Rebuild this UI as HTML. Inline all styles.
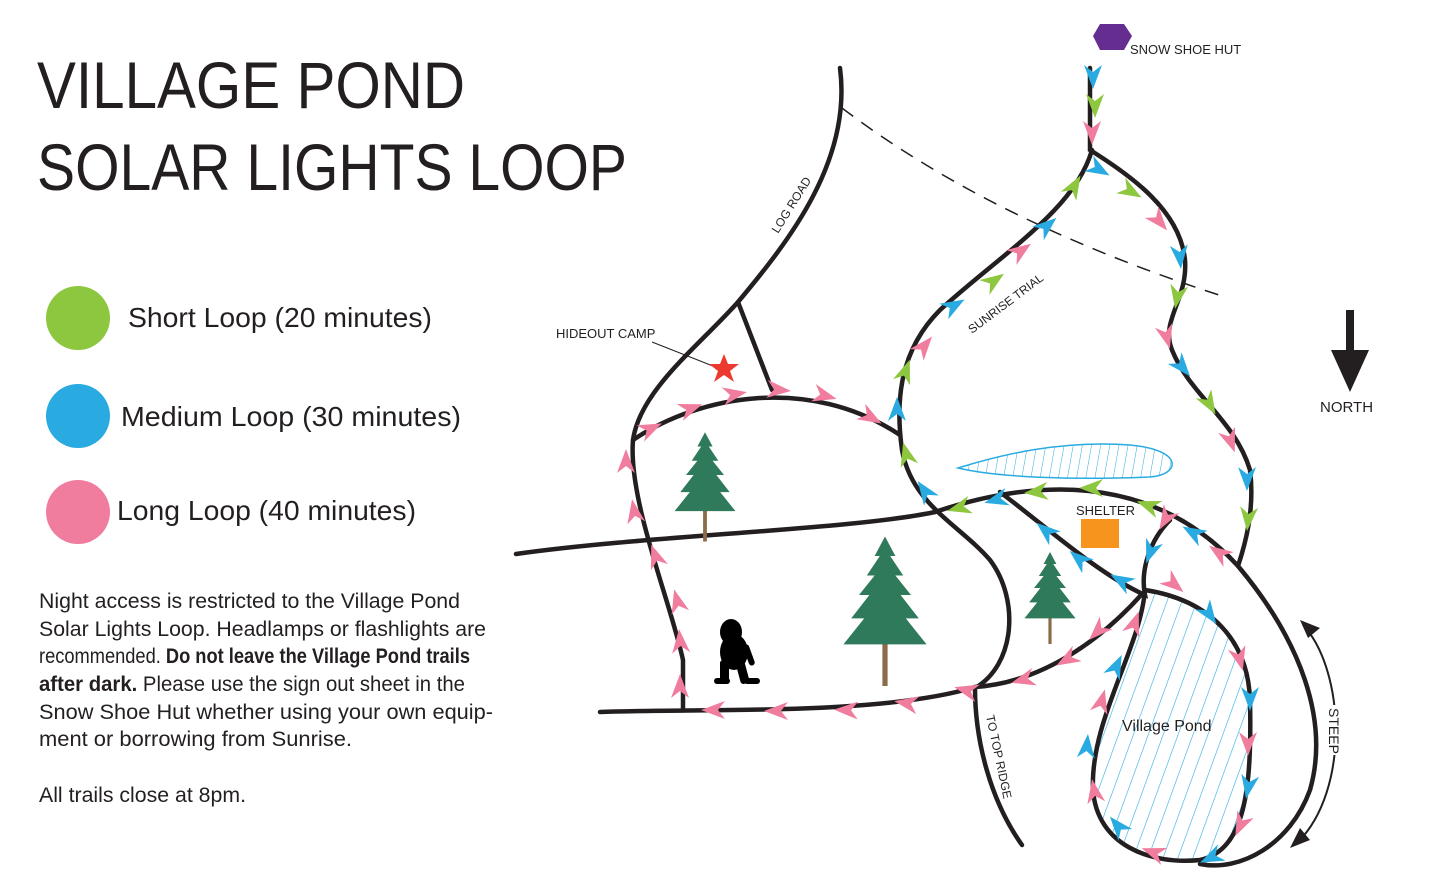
<!DOCTYPE html>
<html><head><meta charset="utf-8"><style>
html,body{margin:0;padding:0;background:#fff;}
svg{display:block;}
text{font-family:"Liberation Sans",sans-serif;fill:#231f20;}
</style></head><body>
<svg width="1453" height="875" viewBox="0 0 1453 875" xmlns="http://www.w3.org/2000/svg">
<defs>
<path id="a" d="M-13,-9 L11,0 L-13,9 L-6,0 Z"/>
<pattern id="h" width="14" height="14" patternUnits="userSpaceOnUse" patternTransform="rotate(20)">
<line x1="0" y1="0" x2="0" y2="14" stroke="#29abe2" stroke-width="1.2"/></pattern>
<pattern id="h2" width="9" height="9" patternUnits="userSpaceOnUse" patternTransform="rotate(10)">
<line x1="0" y1="0" x2="0" y2="9" stroke="#29abe2" stroke-width="1"/></pattern>
<g id="tree">
<rect x="-2" y="25" width="4" height="45" fill="#8b6b4a"/>
<polygon points="0,-45 -8,-30 -4,-30 -14,-15 -8,-15 -20,0 -12,0 -26,18 -16,18 -32,38 32,38 16,18 26,18 12,0 20,0 8,-15 14,-15 4,-30 8,-30" fill="#2e7a5a"/>
</g>
</defs>

<text x="37" y="108" font-size="66" textLength="428" lengthAdjust="spacingAndGlyphs">VILLAGE POND</text>
<text x="37" y="190" font-size="66" textLength="590" lengthAdjust="spacingAndGlyphs">SOLAR LIGHTS LOOP</text>

<circle cx="78" cy="318" r="32" fill="#8dc63f"/>
<circle cx="78" cy="416" r="32" fill="#29abe2"/>
<circle cx="78" cy="512" r="32" fill="#f07c9e"/>
<text x="128" y="327" font-size="28" textLength="304" lengthAdjust="spacingAndGlyphs">Short Loop (20 minutes)</text>
<text x="121" y="426" font-size="28" textLength="340" lengthAdjust="spacingAndGlyphs">Medium Loop (30 minutes)</text>
<text x="117" y="520" font-size="28" textLength="299" lengthAdjust="spacingAndGlyphs">Long Loop (40 minutes)</text>

<g font-size="21">
<text x="39" y="608" textLength="421" lengthAdjust="spacingAndGlyphs">Night access is restricted to the Village Pond</text>
<text x="39" y="636" textLength="447" lengthAdjust="spacingAndGlyphs">Solar Lights Loop. Headlamps or flashlights are</text>
<text x="39" y="663" textLength="431" lengthAdjust="spacingAndGlyphs">recommended. <tspan font-weight="bold">Do not leave the Village Pond trails</tspan></text>
<text x="39" y="691" textLength="426" lengthAdjust="spacingAndGlyphs"><tspan font-weight="bold">after dark.</tspan> Please use the sign out sheet in the</text>
<text x="39" y="719" textLength="454" lengthAdjust="spacingAndGlyphs">Snow Shoe Hut whether using your own equip-</text>
<text x="39" y="746" textLength="313" lengthAdjust="spacingAndGlyphs">ment or borrowing from Sunrise.</text>
<text x="39" y="802" textLength="207" lengthAdjust="spacingAndGlyphs">All trails close at 8pm.</text>
</g>

<path d="M842,108 C950,190 1080,250 1222,296" fill="none" stroke="#231f20" stroke-width="1.5" stroke-dasharray="14,10"/>

<path d="M1145,590 C1140,650 1090,720 1093,790 C1097,845 1150,865 1200,860 C1245,850 1252,790 1250,700 C1248,640 1210,600 1145,590 Z" fill="url(#h)"/>
<path d="M958,468 C1000,455 1060,440 1130,445 C1185,450 1180,475 1150,477 C1080,480 1000,478 958,468 Z" fill="url(#h2)" stroke="#29abe2" stroke-width="1.5"/>

<g fill="none" stroke="#231f20" stroke-width="4.5" stroke-linecap="round">
<path d="M840,68 C852,160 790,240 738,302 C700,345 640,390 633,440 C628,500 670,600 683,660 L683,708"/>
<path d="M738,302 L772,390"/>
<path d="M633,440 C700,395 810,375 900,435"/>
<path d="M516,554 C650,535 850,530 935,512"/>
<path d="M600,712 C700,708 880,716 975,687 C1050,682 1110,630 1142,594"/>
<path d="M1092,150 C1075,210 1000,255 940,310 C900,350 895,400 902,450 C912,505 960,525 990,560 C1020,600 1015,665 975,688 C975,740 990,800 1022,845"/>
<path d="M1090,68 L1090,150 C1130,175 1180,210 1185,260 C1188,300 1160,320 1172,350 C1190,395 1235,420 1250,470 C1255,510 1245,545 1238,566"/>
<path d="M935,512 C1030,480 1150,470 1238,566 C1300,640 1330,720 1310,790 C1290,845 1240,872 1200,864"/>
<path d="M1000,492 C1050,530 1100,575 1145,595 C1140,570 1150,540 1170,520"/>
<path d="M1145,590 C1140,650 1090,720 1093,790 C1097,845 1150,865 1200,860 C1245,850 1252,790 1250,700 C1248,640 1210,600 1145,590"/>
</g>

<path d="M1303,625 C1345,670 1350,790 1298,842" fill="none" stroke="#231f20" stroke-width="2"/>
<polygon points="1300,620 1320,628 1308,638" fill="#231f20"/>
<polygon points="1290,848 1300,828 1310,840" fill="#231f20"/>
<rect x="1325" y="705" width="20" height="50" fill="#fff"/>
<text transform="translate(1329,708) rotate(90)" font-size="14">STEEP</text>

<rect x="1346" y="310" width="8" height="52" fill="#231f20"/>
<polygon points="1331,350 1369,350 1350,392" fill="#231f20"/>
<text x="1320" y="412" font-size="15">NORTH</text>

<polygon points="1100,24 1124,24 1132,36 1124,50 1100,50 1093,36" fill="#662d91"/>
<text x="1130" y="54" font-size="13">SNOW SHOE HUT</text>
<text x="556" y="338" font-size="13">HIDEOUT CAMP</text>
<line x1="652" y1="342" x2="718" y2="368" stroke="#231f20" stroke-width="1"/>
<polygon points="724,354 728,364 739,364 730,371 734,382 724,375 714,382 718,371 709,364 720,364" fill="#ed3a2e"/>
<text transform="translate(778,234) rotate(-58)" font-size="12">LOG ROAD</text>
<text transform="translate(972,334) rotate(-37)" font-size="12">SUNRISE TRIAL</text>
<text transform="translate(986,716) rotate(78)" font-size="12">TO TOP RIDGE</text>
<text x="1076" y="515" font-size="13">SHELTER</text>
<rect x="1081" y="519" width="38" height="29" fill="#f7941d"/>
<text x="1122" y="731" font-size="16">Village Pond</text>

<use href="#tree" transform="translate(705,475) scale(0.95)"/>
<use href="#tree" transform="translate(885,595) scale(1.3)"/>
<use href="#tree" transform="translate(1050,588) scale(0.8)"/>

<g fill="#000">
<ellipse cx="731" cy="632" rx="11" ry="13"/>
<ellipse cx="734" cy="652" rx="14" ry="18"/>
<rect x="720" y="660" width="9" height="22" rx="3"/>
<rect x="738" y="662" width="9" height="22" rx="3" transform="rotate(-15 742 672)"/>
<rect x="746" y="644" width="6" height="22" rx="3" transform="rotate(-20 749 655)"/>
<rect x="714" y="678" width="16" height="6" rx="3"/>
<rect x="744" y="678" width="16" height="6" rx="3"/>
</g>

<g>
<use href="#a" fill="#29abe2" transform="translate(1093,78) rotate(90)"/>
<use href="#a" fill="#8dc63f" transform="translate(1095,107) rotate(90)"/>
<use href="#a" fill="#f07c9e" transform="translate(1092,134) rotate(90)"/>
<use href="#a" fill="#29abe2" transform="translate(1100,170) rotate(30)"/>
<use href="#a" fill="#8dc63f" transform="translate(1132,192) rotate(30)"/>
<use href="#a" fill="#f07c9e" transform="translate(1160,222) rotate(50)"/>
<use href="#a" fill="#29abe2" transform="translate(1180,258) rotate(85)"/>
<use href="#a" fill="#8dc63f" transform="translate(1177,298) rotate(100)"/>
<use href="#a" fill="#f07c9e" transform="translate(1167,338) rotate(75)"/>
<use href="#a" fill="#29abe2" transform="translate(1183,368) rotate(50)"/>
<use href="#a" fill="#8dc63f" transform="translate(1210,405) rotate(60)"/>
<use href="#a" fill="#f07c9e" transform="translate(1231,442) rotate(70)"/>
<use href="#a" fill="#29abe2" transform="translate(1247,480) rotate(90)"/>
<use href="#a" fill="#8dc63f" transform="translate(1248,520) rotate(95)"/>
<use href="#a" fill="#8dc63f" transform="translate(1075,185) rotate(-60)"/>
<use href="#a" fill="#29abe2" transform="translate(1048,225) rotate(-40)"/>
<use href="#a" fill="#f07c9e" transform="translate(1022,250) rotate(-35)"/>
<use href="#a" fill="#8dc63f" transform="translate(995,280) rotate(-35)"/>
<use href="#a" fill="#29abe2" transform="translate(955,305) rotate(-30)"/>
<use href="#a" fill="#f07c9e" transform="translate(925,345) rotate(-50)"/>
<use href="#a" fill="#8dc63f" transform="translate(906,370) rotate(-70)"/>
<use href="#a" fill="#29abe2" transform="translate(897,408) rotate(-90)"/>
<use href="#a" fill="#8dc63f" transform="translate(906,453) rotate(-105)"/>
<use href="#a" fill="#29abe2" transform="translate(924,490) rotate(-125)"/>
<use href="#a" fill="#f07c9e" transform="translate(1218,552) rotate(-145)"/>
<use href="#a" fill="#29abe2" transform="translate(1192,532) rotate(-150)"/>
<use href="#a" fill="#8dc63f" transform="translate(1147,505) rotate(-160)"/>
<use href="#a" fill="#8dc63f" transform="translate(1090,488) rotate(180)"/>
<use href="#a" fill="#8dc63f" transform="translate(1035,492) rotate(175)"/>
<use href="#a" fill="#29abe2" transform="translate(995,500) rotate(165)"/>
<use href="#a" fill="#8dc63f" transform="translate(958,508) rotate(165)"/>
<use href="#a" fill="#29abe2" transform="translate(1045,530) rotate(-140)"/>
<use href="#a" fill="#29abe2" transform="translate(1078,558) rotate(-140)"/>
<use href="#a" fill="#29abe2" transform="translate(1120,580) rotate(-150)"/>
<use href="#a" fill="#29abe2" transform="translate(1150,553) rotate(110)"/>
<use href="#a" fill="#f07c9e" transform="translate(1165,520) rotate(120)"/>
<use href="#a" fill="#f07c9e" transform="translate(680,685) rotate(-90)"/>
<use href="#a" fill="#f07c9e" transform="translate(680,640) rotate(-95)"/>
<use href="#a" fill="#f07c9e" transform="translate(677,600) rotate(-105)"/>
<use href="#a" fill="#f07c9e" transform="translate(655,555) rotate(-110)"/>
<use href="#a" fill="#f07c9e" transform="translate(634,510) rotate(-100)"/>
<use href="#a" fill="#f07c9e" transform="translate(626,460) rotate(-90)"/>
<use href="#a" fill="#f07c9e" transform="translate(652,428) rotate(-25)"/>
<use href="#a" fill="#f07c9e" transform="translate(692,408) rotate(-20)"/>
<use href="#a" fill="#f07c9e" transform="translate(736,394) rotate(-10)"/>
<use href="#a" fill="#f07c9e" transform="translate(780,390) rotate(5)"/>
<use href="#a" fill="#f07c9e" transform="translate(826,396) rotate(15)"/>
<use href="#a" fill="#f07c9e" transform="translate(872,418) rotate(30)"/>
<use href="#a" fill="#f07c9e" transform="translate(965,690) rotate(195)"/>
<use href="#a" fill="#f07c9e" transform="translate(905,703) rotate(190)"/>
<use href="#a" fill="#f07c9e" transform="translate(845,710) rotate(182)"/>
<use href="#a" fill="#f07c9e" transform="translate(775,711) rotate(180)"/>
<use href="#a" fill="#f07c9e" transform="translate(712,710) rotate(180)"/>
<use href="#a" fill="#f07c9e" transform="translate(1022,680) rotate(165)"/>
<use href="#a" fill="#f07c9e" transform="translate(1066,660) rotate(150)"/>
<use href="#a" fill="#f07c9e" transform="translate(1097,632) rotate(135)"/>
<use href="#a" fill="#f07c9e" transform="translate(1135,622) rotate(-70)"/>
<use href="#a" fill="#29abe2" transform="translate(1117,665) rotate(-65)"/>
<use href="#a" fill="#f07c9e" transform="translate(1102,700) rotate(-75)"/>
<use href="#a" fill="#29abe2" transform="translate(1087,745) rotate(-85)"/>
<use href="#a" fill="#f07c9e" transform="translate(1094,790) rotate(-100)"/>
<use href="#a" fill="#29abe2" transform="translate(1117,825) rotate(-130)"/>
<use href="#a" fill="#f07c9e" transform="translate(1152,852) rotate(-160)"/>
<use href="#a" fill="#f07c9e" transform="translate(1175,585) rotate(40)"/>
<use href="#a" fill="#29abe2" transform="translate(1210,615) rotate(55)"/>
<use href="#a" fill="#f07c9e" transform="translate(1240,660) rotate(75)"/>
<use href="#a" fill="#29abe2" transform="translate(1250,700) rotate(90)"/>
<use href="#a" fill="#f07c9e" transform="translate(1248,745) rotate(90)"/>
<use href="#a" fill="#29abe2" transform="translate(1248,788) rotate(100)"/>
<use href="#a" fill="#f07c9e" transform="translate(1240,826) rotate(115)"/>
<use href="#a" fill="#29abe2" transform="translate(1210,858) rotate(155)"/>
</g>
</svg>
</body></html>
